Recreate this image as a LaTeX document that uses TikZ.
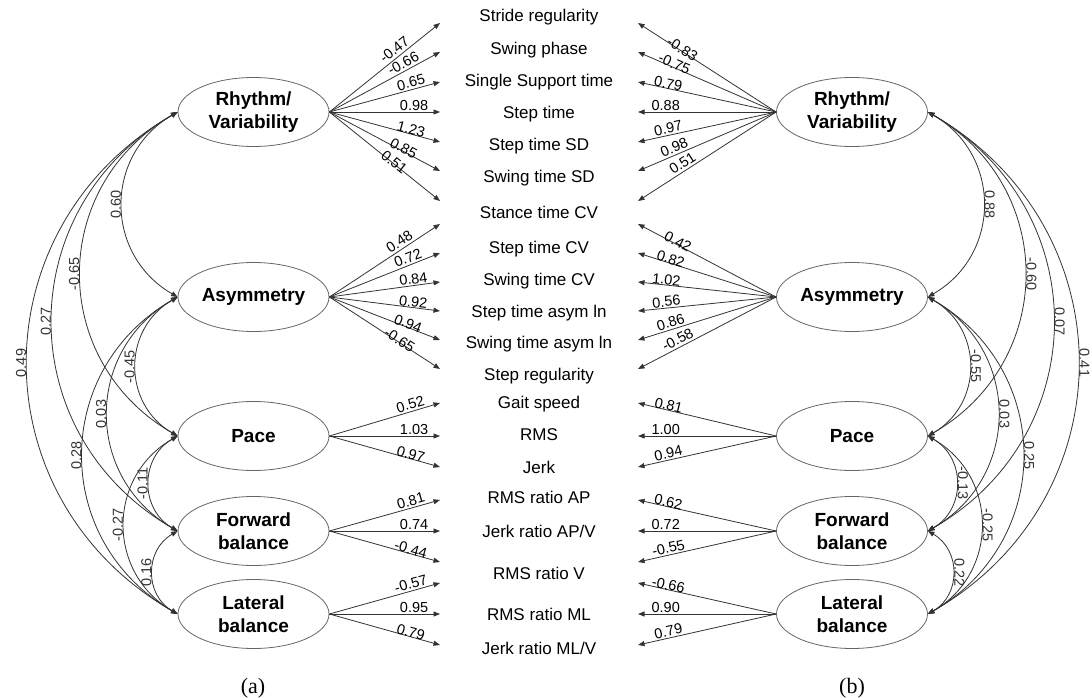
\documentclass[tikz,border=0pt]{standalone}
\usepackage{fontspec}
\setmainfont{Liberation Sans}
\newfontfamily\capfont{Liberation Serif}
\usetikzlibrary{shapes.geometric,arrows.meta}

\begin{document}
\begin{tikzpicture}
[x=1pt, y=1pt, >={Triangle[length=6.5pt,width=5pt]},
factor/.style={ellipse, draw=black!60, line width=0.8pt, minimum width=151pt, minimum height=69pt, inner sep=0pt, align=center, font=\fontsize{19}{23}\selectfont\bfseries},
varname/.style={inner sep=0pt, text height=12pt, text depth=0pt, font=\fontsize{17}{20}\selectfont},
load/.style={->, line width=0.8pt, black!80},
cov/.style={<->, line width=0.8pt, black!80},
lcurve/.style={out=210, in=150, looseness=1.18},
rcurve/.style={out=-30, in=30, looseness=1.18},
lval/.style={sloped, inner sep=0pt, font=\fontsize{14.5}{16}\selectfont},
cvl/.style={midway, rotate=90, anchor=south, inner sep=1pt, font=\fontsize{14.5}{16}\selectfont},
cvr/.style={midway, rotate=-90, anchor=south, inner sep=1pt, font=\fontsize{14.5}{16}\selectfont},
]
\useasboundingbox (0,0) rectangle (1092,-698);
% factors (a)
\node[factor] (rv1) at (253.5,-112) {Rhythm/\\Variability};
\node[factor] (as1) at (253.5,-297) {Asymmetry};
\node[factor] (pa1) at (253.5,-436) {Pace};
\node[factor] (fb1) at (253.5,-531) {Forward\\balance};
\node[factor] (lb1) at (253.5,-614) {Lateral\\balance};
% factors (b)
\node[factor] (rv2) at (852,-112) {Rhythm/\\Variability};
\node[factor] (as2) at (852,-297) {Asymmetry};
\node[factor] (pa2) at (852,-436) {Pace};
\node[factor] (fb2) at (852,-531) {Forward\\balance};
\node[factor] (lb2) at (852,-614) {Lateral\\balance};
% gait variables
\node[varname] (v1) at (539,-16) {Stride regularity};
\node[varname] (v2) at (539,-49) {Swing phase};
\node[varname] (v3) at (539,-81) {Single Support time};
\node[varname] (v4) at (539,-113) {Step time};
\node[varname] (v5) at (539,-144) {Step time SD};
\node[varname] (v6) at (539,-176) {Swing time SD};
\node[varname] (v7) at (539,-212) {Stance time CV};
\node[varname] (v8) at (539,-247) {Step time CV};
\node[varname] (v9) at (539,-279) {Swing time CV};
\node[varname] (v10) at (539,-311) {Step time asym ln};
\node[varname] (v11) at (539,-342) {Swing time asym ln};
\node[varname] (v12) at (539,-374) {Step regularity};
\node[varname] (v13) at (539,-402) {Gait speed};
\node[varname] (v14) at (539,-434) {RMS};
\node[varname] (v15) at (539,-467) {Jerk};
\node[varname] (v16) at (539,-497) {RMS ratio AP};
\node[varname] (v17) at (539,-531) {Jerk ratio AP/V};
\node[varname] (v18) at (539,-573) {RMS ratio V};
\node[varname] (v19) at (539,-614) {RMS ratio ML};
\node[varname] (v20) at (539,-648) {Jerk ratio ML/V};
% arrow tips
\coordinate (l1) at (440,-23);  \coordinate (r1) at (638,-23);
\coordinate (l2) at (440,-52);  \coordinate (r2) at (638,-52);
\coordinate (l3) at (440,-82);  \coordinate (r3) at (638,-82);
\coordinate (l4) at (440,-112); \coordinate (r4) at (638,-112);
\coordinate (l5) at (440,-142); \coordinate (r5) at (638,-142);
\coordinate (l6) at (440,-171); \coordinate (r6) at (638,-171);
\coordinate (l7) at (440,-201); \coordinate (r7) at (638,-201);
\coordinate (l8) at (440,-224); \coordinate (r8) at (638,-224);
\coordinate (l9) at (440,-253); \coordinate (r9) at (638,-253);
\coordinate (l10) at (440,-282); \coordinate (r10) at (638,-282);
\coordinate (l11) at (440,-311); \coordinate (r11) at (638,-311);
\coordinate (l12) at (440,-340); \coordinate (r12) at (638,-340);
\coordinate (l13) at (440,-369); \coordinate (r13) at (638,-369);
\coordinate (l14) at (440,-403); \coordinate (r14) at (638,-403);
\coordinate (l15) at (440,-436); \coordinate (r15) at (638,-436);
\coordinate (l16) at (440,-467); \coordinate (r16) at (638,-467);
\coordinate (l17) at (440,-500); \coordinate (r17) at (638,-500);
\coordinate (l18) at (440,-531); \coordinate (r18) at (638,-531);
\coordinate (l19) at (440,-562); \coordinate (r19) at (638,-562);
\coordinate (l20) at (440,-583); \coordinate (r20) at (638,-583);
\coordinate (l21) at (440,-614); \coordinate (r21) at (638,-614);
\coordinate (l22) at (440,-645); \coordinate (r22) at (638,-645);
% loadings (a)
\draw[load] (rv1.east) -- (l1);
\draw[load] (rv1.east) -- (l2);
\draw[load] (rv1.east) -- (l3);
\draw[load] (rv1.east) -- (l4);
\draw[load] (rv1.east) -- (l5);
\draw[load] (rv1.east) -- (l6);
\draw[load] (rv1.east) -- (l7);
\draw[load] (as1.east) -- (l8);
\draw[load] (as1.east) -- (l9);
\draw[load] (as1.east) -- (l10);
\draw[load] (as1.east) -- (l11);
\draw[load] (as1.east) -- (l12);
\draw[load] (as1.east) -- (l13);
\draw[load] (pa1.east) -- (l14);
\draw[load] (pa1.east) -- (l15);
\draw[load] (pa1.east) -- (l16);
\draw[load] (fb1.east) -- (l17);
\draw[load] (fb1.east) -- (l18);
\draw[load] (fb1.east) -- (l19);
\draw[load] (lb1.east) -- (l20);
\draw[load] (lb1.east) -- (l21);
\draw[load] (lb1.east) -- (l22);
% loadings (b)
\draw[load] (rv2.west) -- (r1);
\draw[load] (rv2.west) -- (r2);
\draw[load] (rv2.west) -- (r3);
\draw[load] (rv2.west) -- (r4);
\draw[load] (rv2.west) -- (r5);
\draw[load] (rv2.west) -- (r6);
\draw[load] (rv2.west) -- (r7);
\draw[load] (as2.west) -- (r8);
\draw[load] (as2.west) -- (r9);
\draw[load] (as2.west) -- (r10);
\draw[load] (as2.west) -- (r11);
\draw[load] (as2.west) -- (r12);
\draw[load] (as2.west) -- (r13);
\draw[load] (pa2.west) -- (r14);
\draw[load] (pa2.west) -- (r15);
\draw[load] (pa2.west) -- (r16);
\draw[load] (fb2.west) -- (r17);
\draw[load] (fb2.west) -- (r18);
\draw[load] (fb2.west) -- (r19);
\draw[load] (lb2.west) -- (r20);
\draw[load] (lb2.west) -- (r21);
\draw[load] (lb2.west) -- (r22);
% loading values, set a little up and left of the lines
\begin{scope}[transform canvas={shift={(-5pt,6pt)}}]
\path (rv1.east) -- (l1) node[lval,pos=.632]{-0.47};
\path (rv1.east) -- (l2) node[lval,pos=.713]{-0.66};
\path (rv1.east) -- (l3) node[lval,pos=.783]{0.65};
\path (rv1.east) -- (l4) node[lval,pos=.811]{0.98};
\path (rv1.east) -- (l5) node[lval,pos=.783]{1.23};
\path (rv1.east) -- (l6) node[lval,pos=.716]{0.85};
\path (rv1.east) -- (l7) node[lval,pos=.632]{0.51};
\path (as1.east) -- (l8) node[lval,pos=.677]{0.48};
\path (as1.east) -- (l9) node[lval,pos=.754]{0.72};
\path (as1.east) -- (l10) node[lval,pos=.804]{0.84};
\path (as1.east) -- (l11) node[lval,pos=.804]{0.92};
\path (as1.east) -- (l12) node[lval,pos=.756]{0.94};
\path (as1.east) -- (l13) node[lval,pos=.680]{-0.65};
\path (pa1.east) -- (l14) node[lval,pos=.777]{0.52};
\path (pa1.east) -- (l15) node[lval,pos=.811]{1.03};
\path (pa1.east) -- (l16) node[lval,pos=.781]{0.97};
\path (fb1.east) -- (l17) node[lval,pos=.781]{0.81};
\path (fb1.east) -- (l18) node[lval,pos=.811]{0.74};
\path (fb1.east) -- (l19) node[lval,pos=.781]{-0.44};
\path (lb1.east) -- (l20) node[lval,pos=.781]{-0.57};
\path (lb1.east) -- (l21) node[lval,pos=.811]{0.95};
\path (lb1.east) -- (l22) node[lval,pos=.781]{0.79};
\path (rv2.west) -- (r1) node[lval,pos=.642]{-0.83};
\path (rv2.west) -- (r2) node[lval,pos=.700]{-0.75};
\path (rv2.west) -- (r3) node[lval,pos=.745]{0.79};
\path (rv2.west) -- (r4) node[lval,pos=.763]{0.88};
\path (rv2.west) -- (r5) node[lval,pos=.745]{0.97};
\path (rv2.west) -- (r6) node[lval,pos=.702]{0.98};
\path (rv2.west) -- (r7) node[lval,pos=.642]{0.51};
\path (as2.west) -- (r8) node[lval,pos=.675]{0.42};
\path (as2.west) -- (r9) node[lval,pos=.727]{0.82};
\path (as2.west) -- (r10) node[lval,pos=.758]{1.02};
\path (as2.west) -- (r11) node[lval,pos=.759]{0.56};
\path (as2.west) -- (r12) node[lval,pos=.728]{0.86};
\path (as2.west) -- (r13) node[lval,pos=.677]{-0.58};
\path (pa2.west) -- (r14) node[lval,pos=.742]{0.81};
\path (pa2.west) -- (r15) node[lval,pos=.763]{1.00};
\path (pa2.west) -- (r16) node[lval,pos=.744]{0.94};
\path (fb2.west) -- (r17) node[lval,pos=.744]{0.62};
\path (fb2.west) -- (r18) node[lval,pos=.763]{0.72};
\path (fb2.west) -- (r19) node[lval,pos=.744]{-0.55};
\path (lb2.west) -- (r20) node[lval,pos=.744]{-0.66};
\path (lb2.west) -- (r21) node[lval,pos=.763]{0.90};
\path (lb2.west) -- (r22) node[lval,pos=.744]{0.79};
\end{scope}
% covariances (a)
\draw[cov] (rv1.west) to[lcurve] node[cvl]{0.60} (as1.west);
\draw[cov] (rv1.west) to[lcurve] node[cvl]{-0.65} (pa1.west);
\draw[cov] (rv1.west) to[lcurve] node[cvl]{0.27} (fb1.west);
\draw[cov] (rv1.west) to[lcurve] node[cvl]{0.49} (lb1.west);
\draw[cov] (as1.west) to[lcurve] node[cvl]{-0.45} (pa1.west);
\draw[cov] (as1.west) to[lcurve] node[cvl]{0.03} (fb1.west);
\draw[cov] (as1.west) to[lcurve] node[cvl]{0.28} (lb1.west);
\draw[cov] (pa1.west) to[lcurve] node[cvl]{-0.11} (fb1.west);
\draw[cov] (pa1.west) to[lcurve] node[cvl]{-0.27} (lb1.west);
\draw[cov] (fb1.west) to[lcurve] node[cvl]{0.16} (lb1.west);
% covariances (b)
\draw[cov] (rv2.east) to[rcurve] node[cvr]{0.88} (as2.east);
\draw[cov] (rv2.east) to[rcurve] node[cvr]{-0.60} (pa2.east);
\draw[cov] (rv2.east) to[rcurve] node[cvr]{0.07} (fb2.east);
\draw[cov] (rv2.east) to[rcurve] node[cvr]{0.41} (lb2.east);
\draw[cov] (as2.east) to[rcurve] node[cvr]{-0.55} (pa2.east);
\draw[cov] (as2.east) to[rcurve] node[cvr]{0.03} (fb2.east);
\draw[cov] (as2.east) to[rcurve] node[cvr]{0.25} (lb2.east);
\draw[cov] (pa2.east) to[rcurve] node[cvr]{-0.13} (fb2.east);
\draw[cov] (pa2.east) to[rcurve] node[cvr]{-0.25} (lb2.east);
\draw[cov] (fb2.east) to[rcurve] node[cvr]{0.22} (lb2.east);
% captions
\node[font=\capfont\fontsize{22}{24}\selectfont] (capa) at (253,-688) {(a)};
\node[font=\capfont\fontsize{22}{24}\selectfont] (capb) at (852,-688) {(b)};
\end{tikzpicture}
\end{document}
